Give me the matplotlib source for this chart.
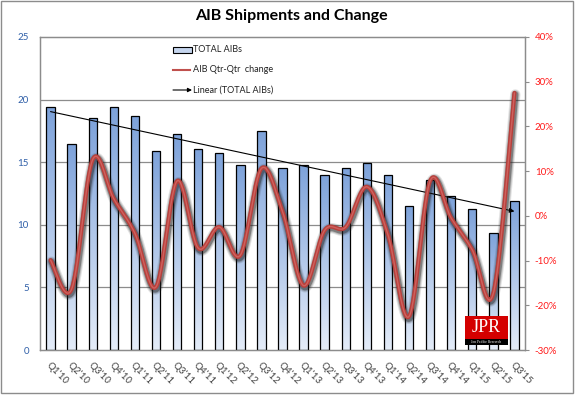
import numpy as np
import matplotlib
matplotlib.use("Agg")
import matplotlib.pyplot as plt
from matplotlib.patches import Rectangle
from matplotlib.lines import Line2D
from matplotlib.colors import LinearSegmentedColormap

plt.rcParams['font.family'] = ['Lato', 'DejaVu Sans']

quarters = ["Q1'10", "Q2'10", "Q3'10", "Q4'10", "Q1'11", "Q2'11", "Q3'11", "Q4'11",
            "Q1'12", "Q2'12", "Q3'12", "Q4'12", "Q1'13", "Q2'13", "Q3'13", "Q4'13",
            "Q1'14", "Q2'14", "Q3'14", "Q4'14", "Q1'15", "Q2'15", "Q3'15"]
total_aibs = [19.4, 16.45, 18.5, 19.4, 18.7, 15.9, 17.25, 16.05,
              15.75, 14.8, 17.5, 14.5, 14.8, 14.0, 14.5, 14.9,
              14.0, 11.5, 13.6, 12.3, 11.25, 9.35, 11.9]
qtr_change = [-9.9, -16.4, 12.6, 3.8, -3.9, -15.9, 7.8, -7.2,
              -2.5, -8.8, 10.6, 1.0, -15.6, -3.2, -2.5, 6.5,
              -4.2, -22.5, 7.8, -0.5, -7.6, -17.3, 27.5]
left_ticks = [0, 5, 10, 15, 20, 25]
right_ticks = [-30, -20, -10, 0, 10, 20, 30, 40]

W, H = 576, 396
fig = plt.figure(figsize=(W / 100, H / 100), dpi=100)
L, R, B, T = 40, 525, 350, 37
ax = fig.add_axes([L / W, 1 - B / H, (R - L) / W, (B - T) / H])
ax2 = ax.twinx()

n = len(quarters)
x = np.arange(n)
ax.set_xlim(-0.5, n - 0.5)
ax.set_ylim(0, 25)
ax2.set_ylim(-30, 40)

# gridlines
for v in left_ticks[1:-1]:
    ax.axhline(v, color='#8c8c8c', lw=0.9, zorder=0)

# gradient bars
grad = np.linspace(0, 1, 256).reshape(-1, 1)
cmap = LinearSegmentedColormap.from_list('bg', ['#e4ecf8', '#7da2da'])
bw = 0.4
for xi, v in zip(x, total_aibs):
    rect = Rectangle((xi - bw / 2, 0), bw, v, facecolor='none', edgecolor='black', lw=0.9, zorder=3)
    ax.add_patch(rect)
    im = ax.imshow(grad, extent=(xi - bw / 2, xi + bw / 2, 0, v), origin='lower',
                   cmap=cmap, aspect='auto', zorder=2)
    im.set_clip_path(rect)
ax.set_xlim(-0.5, n - 0.5)
ax.set_ylim(0, 25)

# linear trend line
coef = np.polyfit(x, total_aibs, 1)
trend = np.polyval(coef, x)
ax.annotate('', xy=(x[-1], trend[-1]), xytext=(x[0], trend[0]),
            arrowprops=dict(arrowstyle='-|>', color='black', lw=0.8,
                            mutation_scale=7, shrinkA=0, shrinkB=0), zorder=5)

# smoothed change line (Catmull-Rom, as Excel smoothing)
def catmull(xs, ys, steps=30):
    xs = np.asarray(xs, float); ys = np.asarray(ys, float)
    px = np.concatenate([[xs[0]], xs, [xs[-1]]])
    py = np.concatenate([[ys[0]], ys, [ys[-1]]])
    ox, oy = [], []
    for i in range(1, len(px) - 2):
        t = np.linspace(0, 1, steps, endpoint=False)
        for arr, out in ((px, ox), (py, oy)):
            p0, p1, p2, p3 = arr[i - 1], arr[i], arr[i + 1], arr[i + 2]
            out.extend(0.5 * ((2 * p1) + (-p0 + p2) * t + (2 * p0 - 5 * p1 + 4 * p2 - p3) * t ** 2
                              + (-p0 + 3 * p1 - 3 * p2 + p3) * t ** 3))
    ox.append(xs[-1]); oy.append(ys[-1])
    return np.array(ox), np.array(oy)

sx, sy = catmull(x, qtr_change)
for lw, a in ((7.5, 0.12), (6, 0.2), (4.5, 0.4)):
    ax2.plot(sx + 0.04, sy - 0.35, color='#202020', lw=lw, alpha=a, solid_capstyle='round', zorder=6)
ax2.plot(sx, sy, color='#b8403c', lw=3.0, solid_capstyle='round', zorder=7)
ax2.plot(sx, sy, color='#d46a66', lw=1.0, solid_capstyle='round', zorder=8, alpha=0.8)

# axes styling
for a in (ax, ax2):
    for s in a.spines.values():
        s.set_color('#8c8c8c')
        s.set_linewidth(0.9)
ax.set_yticks(left_ticks)
ax.set_yticklabels([str(v) for v in left_ticks], color='#2f5fa8', fontsize=7)
ax.tick_params(axis='y', length=0, pad=8)
ax2.set_yticks(right_ticks)
ax2.set_yticklabels([f'{v}%' for v in right_ticks], color='#ff1a1a', fontsize=7)
ax2.tick_params(axis='y', length=3, color='#8c8c8c', pad=4)
ax.set_xticks(x)
ax.set_xticklabels(quarters, rotation=-45, ha='left', va='top', rotation_mode='anchor',
                   fontsize=7, color='#404040')
ax.tick_params(axis='x', length=0, pad=8)

# title
fig.text(291 / W, 1 - 16 / H, 'AIB Shipments and Change', ha='center', va='center',
         fontsize=11.5, fontweight='bold', color='black')

# manual legend (axes coords from pixels)
def axc(px, py):
    return ((px - L) / (R - L), (B - py) / (B - T))

x0, y0 = axc(173, 53)
x1, y1 = axc(192, 47)
ax2.add_patch(Rectangle((x0, y0), x1 - x0, y1 - y0, transform=ax2.transAxes,
                        facecolor='#c5d5ee', edgecolor='black', lw=0.8, zorder=10))
tx, ty = axc(193, 50)
ax2.text(tx, ty, 'TOTAL AIBs', transform=ax2.transAxes, fontsize=6.5, va='center', ha='left', color='#222222')
a0, b0 = axc(173, 70); a1, _ = axc(190, 70)
ax2.add_line(Line2D([a0, a1], [b0, b0], transform=ax2.transAxes, color='#c0504d', lw=1.5, zorder=10))
tx, ty = axc(193, 70)
ax2.text(tx, ty, 'AIB Qtr-Qtr  change', transform=ax2.transAxes, fontsize=6.5, va='center', ha='left', color='#222222')
a0, b0 = axc(173, 90); a1, _ = axc(192, 90)
ax2.annotate('', xy=(a1, b0), xytext=(a0, b0), xycoords='axes fraction',
             arrowprops=dict(arrowstyle='-|>', color='black', lw=0.8, mutation_scale=6,
                             shrinkA=0, shrinkB=0))
tx, ty = axc(193, 90)
ax2.text(tx, ty, 'Linear (TOTAL AIBs)', transform=ax2.transAxes, fontsize=6.5, va='center', ha='left', color='#222222')

# JPR logo
fig.patches.append(Rectangle((465 / W, 1 - 339 / H), 43 / W, 23 / H, transform=fig.transFigure,
                             facecolor='#d40000', edgecolor='none', zorder=20))
fig.patches.append(Rectangle((465 / W, 1 - 345 / H), 43 / W, 6 / H, transform=fig.transFigure,
                             facecolor='black', edgecolor='none', zorder=20))
fig.text(486.5 / W, 1 - 328 / H, 'JPR', ha='center', va='center', fontsize=13,
         family='Liberation Serif', color='white', zorder=21)
fig.text(486.5 / W, 1 - 342 / H, 'Jon Peddie Research', ha='center', va='center', fontsize=2.6,
         family='Liberation Serif', color='white', zorder=21)

# outer frame
fig.patches.append(Rectangle((1 / W, 1 - 393 / H), 572 / W, 392 / H, transform=fig.transFigure,
                             facecolor='none', edgecolor='#8c8c8c', lw=1.0, zorder=30))

fig.savefig('out.png', dpi=100)
